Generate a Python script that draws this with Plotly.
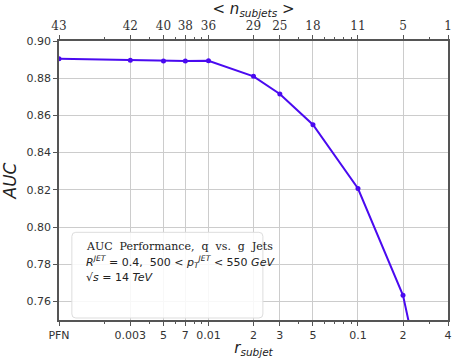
import plotly.graph_objects as go
import math

# data
r_subjet = [0.001, 0.003, 0.005, 0.007, 0.01, 0.02, 0.03, 0.05, 0.1, 0.2, 0.4]
auc = [0.8905, 0.8896, 0.8893, 0.8893, 0.8894, 0.8810, 0.8715, 0.8550, 0.8207, 0.7633, 0.651]
bottom_ticktext = ["PFN", "0.003", "5", "7", "0.01", "2", "3", "5", "0.1", "2", "4"]
n_subjets = ["43", "42", "40", "38", "36", "29", "25", "18", "11", "5", "1"]
minor_vals = [0.002, 0.004, 0.006, 0.008, 0.009, 0.04, 0.06, 0.07, 0.08, 0.09, 0.3]
y_ticks = [0.76, 0.78, 0.80, 0.82, 0.84, 0.86, 0.88, 0.90]

xr = [math.log10(0.001), math.log10(0.4)]
yr = [0.75, 0.90]

W, H = 456, 358
ml, mr, mt, mb = 59, 4, 40, 38

fig = go.Figure()
fig.add_trace(go.Scatter(
    x=r_subjet, y=auc, mode="lines+markers",
    line=dict(color="#4a0af0", width=2),
    marker=dict(color="#4a0af0", size=5),
    showlegend=False, cliponaxis=True,
))
fig.add_trace(go.Scatter(x=r_subjet, y=auc, xaxis="x2", mode="lines",
                         line=dict(width=0), hoverinfo="skip", showlegend=False,
                         opacity=0))

axis_line = "#555555"
grid = "#cccccc"
tickfont = dict(family="DejaVu Sans", size=11, color="#333333")

fig.update_layout(
    width=W, height=H,
    margin=dict(l=ml, r=mr, t=mt, b=mb),
    paper_bgcolor="white", plot_bgcolor="white",
    xaxis=dict(
        type="log", range=xr, tickmode="array", tickvals=r_subjet, ticktext=bottom_ticktext,
        showgrid=True, gridcolor=grid, gridwidth=1,
        showline=True, linecolor=axis_line, linewidth=1.5, mirror=False,
        ticks="outside", ticklen=4, tickcolor=axis_line, tickfont=tickfont,
        minor=dict(tickvals=minor_vals, ticks="outside", ticklen=2, tickcolor=axis_line, showgrid=False),
        title=dict(text="<i>r<sub>subjet</sub></i>", font=dict(family="DejaVu Sans", size=15, color="#222222"), standoff=0),
        zeroline=False,
    ),
    xaxis2=dict(
        type="log", range=xr, overlaying="x", side="top", anchor="y",
        tickmode="array", tickvals=r_subjet, ticktext=n_subjets,
        showgrid=False, showline=True, linecolor=axis_line, linewidth=1.5,
        ticks="outside", ticklen=4, tickcolor=axis_line,
        tickfont=dict(family="DejaVu Serif", size=12, color="#333333"),
        minor=dict(tickvals=minor_vals, ticks="outside", ticklen=2, tickcolor=axis_line, showgrid=False),
        title=dict(text="&lt; <i>n<sub>subjets</sub></i> &gt;", font=dict(family="DejaVu Sans", size=15, color="#222222"), standoff=5),
        zeroline=False,
    ),
    yaxis=dict(
        range=yr, tickmode="array", tickvals=y_ticks, ticktext=[f"{v:.2f}" for v in y_ticks],
        showgrid=True, gridcolor=grid, gridwidth=1,
        showline=True, linecolor=axis_line, linewidth=1.5, mirror=True,
        ticks="outside", ticklen=4, tickcolor=axis_line, tickfont=tickfont,
        title=dict(text="<i>AUC</i>", font=dict(family="DejaVu Sans", size=17, color="#222222"), standoff=6),
        zeroline=False,
    ),
)

pw, ph = W - ml - mr, H - mt - mb
def px2paper(x, y):
    return (x - ml) / pw, (H - mb - y) / ph
x0, y0 = px2paper(72, 318)
x1, y1 = px2paper(265, 232)
rx, ry = 4 / pw, 4 / ph
path = (f"M {x0+rx},{y0} L {x1-rx},{y0} Q {x1},{y0} {x1},{y0+ry} "
        f"L {x1},{y1-ry} Q {x1},{y1} {x1-rx},{y1} L {x0+rx},{y1} Q {x0},{y1} {x0},{y1-ry} "
        f"L {x0},{y0+ry} Q {x0},{y0} {x0+rx},{y0} Z")
fig.add_shape(type="path", path=path, xref="paper", yref="paper",
              fillcolor="rgba(255,255,255,0.85)", line=dict(color="#dddddd", width=1), layer="above")

tx, _ = px2paper(84, 0)
lines = [
    ("AUC  Performance,  q  vs.  g  Jets", "DejaVu Serif", 246),
    ("<i>R<sup>JET</sup></i> = 0.4,  500 &lt; <i>p<sub>T</sub><sup>JET</sup></i> &lt; 550 <i>GeV</i>", "DejaVu Sans", 262),
    ("√<i>s</i> = 14 <i>TeV</i>", "DejaVu Sans", 277),
]
for text, fam, ypx in lines:
    _, ty = px2paper(0, ypx)
    fig.add_annotation(x=tx, y=ty, xref="paper", yref="paper", text=text, showarrow=False,
                       xanchor="left", yanchor="middle",
                       font=dict(family=fam, size=11, color="#222222"))

fig.write_html("out.html")
